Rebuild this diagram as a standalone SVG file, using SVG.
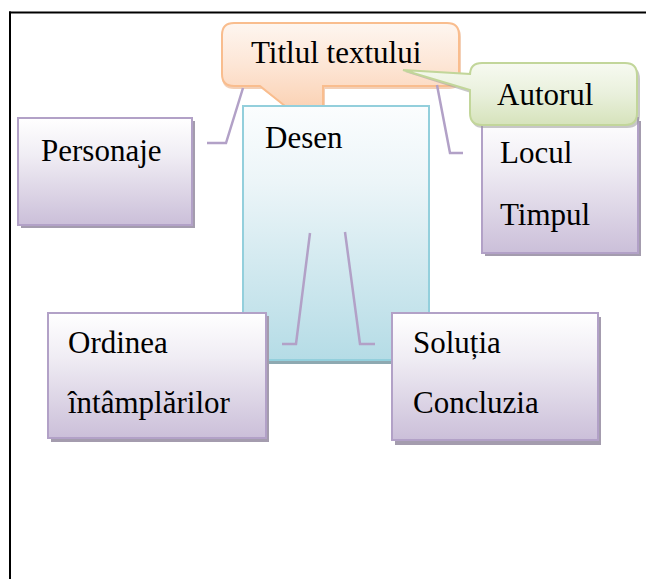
<svg xmlns="http://www.w3.org/2000/svg" width="646" height="579" viewBox="0 0 646 579">
<style>
  .t { font-family: "Liberation Serif", "Times New Roman", serif; font-size: 31px; fill: #000; }
  .pbox { fill: url(#gPurple); stroke: #b2a1c7; stroke-width: 2; }
  .pshadow { fill: #a49cae; }
  .conn { fill: none; stroke: #b2a1c7; stroke-width: 2.5; }
</style>
<defs>
  <linearGradient id="gPurple" x1="0" y1="0" x2="0" y2="1">
    <stop offset="0" stop-color="#ffffff"/>
    <stop offset="0.35" stop-color="#f0edf4"/>
    <stop offset="1" stop-color="#cbbfd9"/>
  </linearGradient>
  <linearGradient id="gBlue" x1="0" y1="0" x2="0" y2="1">
    <stop offset="0" stop-color="#fbfdfe"/>
    <stop offset="0.3" stop-color="#ecf5f8"/>
    <stop offset="1" stop-color="#b5dce6"/>
  </linearGradient>
  <linearGradient id="gOrange" x1="0" y1="0" x2="0" y2="1">
    <stop offset="0" stop-color="#fef6f0"/>
    <stop offset="0.5" stop-color="#fde6d6"/>
    <stop offset="1" stop-color="#fbd3b6"/>
  </linearGradient>
  <linearGradient id="gGreen" x1="0" y1="0" x2="0" y2="1">
    <stop offset="0" stop-color="#f7faf1"/>
    <stop offset="0.5" stop-color="#e9f0dc"/>
    <stop offset="1" stop-color="#d6e3bb"/>
  </linearGradient>
</defs>

<rect x="0" y="0" width="646" height="579" fill="#ffffff"/>

<g id="page-border">
  <rect x="9" y="11.5" width="637" height="2" fill="#000"/>
  <rect x="9" y="11.5" width="2" height="567.5" fill="#000"/>
</g>

<g id="node-personaje">
  <rect class="pshadow" x="21" y="121" width="174" height="107"/>
  <rect class="pbox" x="18" y="118" width="174" height="107"/>
  <text class="t" x="41" y="161">Personaje</text>
</g>

<g id="node-locul">
  <rect class="pshadow" x="485" y="121" width="156" height="135"/>
  <rect class="pbox" x="482" y="118" width="156" height="135"/>
  <text class="t" x="500" y="163">Locul</text>
  <text class="t" x="500" y="225">Timpul</text>
</g>

<g id="node-titlu">
  <path d="M 234 25 H 449 Q 461 25 461 37 V 77 Q 461 89 449 89 H 325 V 108 H 287 L 262 89 H 234 Q 222 89 222 77 V 37 Q 222 25 234 25 Z" fill="#e8a06e" opacity="0.5"/>
  <path d="M 234 23 H 447 Q 459 23 459 35 V 74 Q 459 86 447 86 H 323 V 106 H 285 L 260 86 H 234 Q 222 86 222 74 V 35 Q 222 23 234 23 Z" fill="url(#gOrange)" stroke="#f9bd8e" stroke-width="2"/>
  <text class="t" x="251" y="63">Titlul textului</text>
</g>

<g id="node-desen">
  <rect x="243" y="108" width="187" height="256" fill="#8ea9b1"/>
  <rect x="243" y="106" width="186" height="254" fill="url(#gBlue)" stroke="#93cfdc" stroke-width="2"/>
  <text class="t" x="265" y="148">Desen</text>
</g>

<g id="connectors">
  <polyline class="conn" points="243,88 226,143 207,143"/>
  <polyline class="conn" points="437,85 450,153 463,153"/>
  <polyline class="conn" points="310,233 296,344 282,344"/>
  <polyline class="conn" points="345,232 360,344 375,344"/>
</g>

<g id="node-autorul">
  <path d="M 483 66 H 627 Q 640 66 640 79 V 115 Q 640 128 627 128 H 483 Q 471 128 471 115 V 93 L 405 72 L 471 76 V 79 Q 471 66 483 66 Z" fill="#9a9a9a" opacity="0.55"/>
  <path d="M 482 63 H 625 Q 637 63 637 75 V 113 Q 637 125 625 125 H 482 Q 470 125 470 113 V 90 L 403 70 L 470 74 V 75 Q 470 63 482 63 Z" fill="url(#gGreen)" stroke="#c2d69a" stroke-width="2"/>
  <text class="t" x="497" y="105">Autorul</text>
</g>

<g id="node-ordinea">
  <rect class="pshadow" x="51" y="316" width="218" height="126"/>
  <rect class="pbox" x="48" y="313" width="218" height="125"/>
  <text class="t" x="68" y="353">Ordinea</text>
  <text class="t" x="68" y="413">întâmplărilor</text>
</g>

<g id="node-solutia">
  <rect class="pshadow" x="395" y="317" width="206" height="128"/>
  <rect class="pbox" x="392" y="313" width="206" height="127"/>
  <text class="t" x="413" y="353">Soluția</text>
  <text class="t" x="413" y="413">Concluzia</text>
</g>
</svg>
